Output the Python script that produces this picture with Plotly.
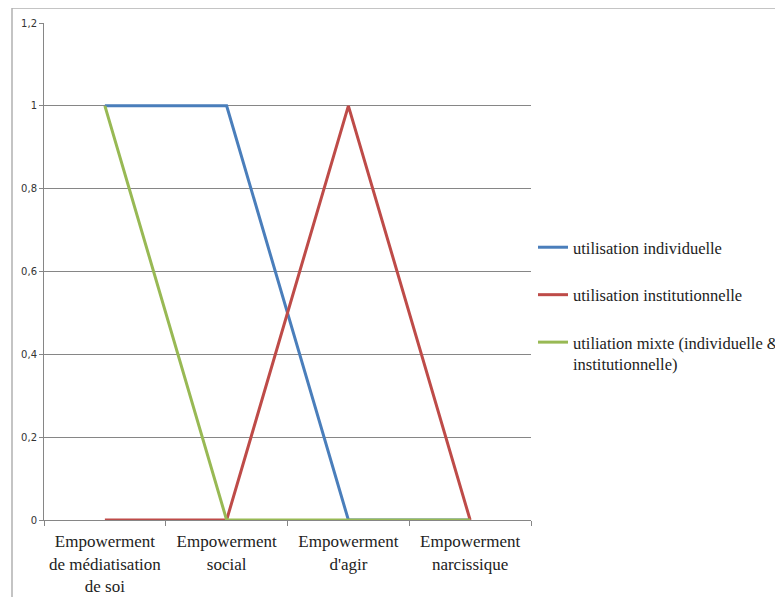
import plotly.graph_objects as go

categories = ["Empowerment<br>de médiatisation<br>de soi", "Empowerment<br>social",
              "Empowerment<br>d'agir", "Empowerment<br>narcissique"]
individuelle = [1, 1, 0, 0]
institutionnelle = [0, 0, 1, 0]
mixte = [1, 0, 0, 0]
names = ["utilisation individuelle", "utilisation institutionnelle",
         "utiliation mixte (individuelle &<br>institutionnelle)"]
colors = ["#4A7EBB", "#BE4B48", "#98B954"]
y_ticks = [0, 0.2, 0.4, 0.6, 0.8, 1, 1.2]
y_labels = ["0", "0,2", "0,4", "0,6", "0,8", "1", "1,2"]

OFF = 8  # page body margin
W, H = 783 - OFF, 597 - OFF
L, R, T, B = 44 - OFF, 531 - OFF, 23 - OFF, 520 - OFF

fig = go.Figure()
for i, (vals, name, col) in enumerate(zip([individuelle, institutionnelle, mixte], names, colors)):
    fig.add_trace(go.Scatter(x=categories, y=vals, mode="lines", name=name,
                             line=dict(color=col, width=3), legendgroup=str(i),
                             cliponaxis=False))

def px_x(x):
    return (x - OFF - L) / (R - L)

def px_y(y):
    return (B - (y - OFF)) / (B - T)

fig.update_layout(
    width=W, height=H,
    margin=dict(l=L, r=W - R, t=T, b=H - B, autoexpand=False),
    plot_bgcolor="white", paper_bgcolor="white",
    showlegend=True,
    legend=dict(x=px_x(533), xanchor="left", y=px_y(230), yanchor="top",
                font=dict(family="Liberation Serif", size=16.5, color="#222"),
                traceorder="grouped", tracegroupgap=23, valign="top",
                itemwidth=30, bgcolor="rgba(0,0,0,0)"),
    xaxis=dict(type="category", tickson="boundaries", ticks="outside", ticklen=5,
               tickcolor="#868686", showline=True, linecolor="#868686", linewidth=1,
               showgrid=False, range=[-0.5, 3.5], ticklabelstandoff=6, tickangle=0,
               automargin=False,
               tickfont=dict(family="Liberation Serif", size=17, color="#222")),
    yaxis=dict(range=[0, 1.2], tickvals=y_ticks, ticktext=y_labels, ticks="outside",
               ticklen=4, tickcolor="#868686", showline=True, linecolor="#868686",
               linewidth=1, showgrid=True, gridcolor="#868686", gridwidth=1,
               zeroline=False, automargin=False,
               tickfont=dict(family="DejaVu Sans", size=10, color="#333")),
    shapes=[
        dict(type="line", xref="paper", yref="paper", x0=px_x(12), x1=px_x(W + 20),
             y0=px_y(8), y1=px_y(8), line=dict(color="#b0b0b0", width=1.5)),
        dict(type="line", xref="paper", yref="paper", x0=px_x(12), x1=px_x(12),
             y0=px_y(8), y1=px_y(H + 20), line=dict(color="#b0b0b0", width=1.5)),
    ],
)

fig.write_html("out.html")
